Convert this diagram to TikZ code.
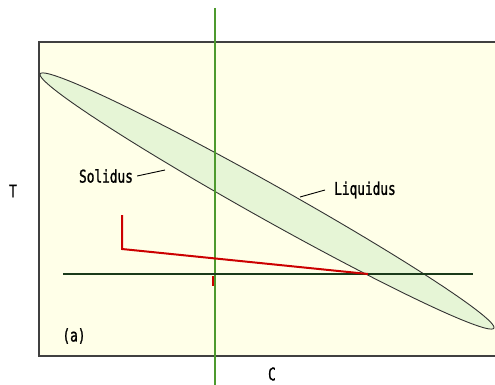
\documentclass[tikz,border=0pt]{standalone}
\usepackage{fontspec}
\usepackage{xcolor}
\usepackage{tikz}
\newfontfamily\labelfont{DejaVu Sans Mono}[FakeStretch=0.73, FakeBold=1.2]
\definecolor{paperColor}{HTML}{FFFFE8}
\definecolor{lensColor}{HTML}{E6F5D6}
\definecolor{axisGreen}{HTML}{4E9A2E}
\definecolor{tieGreen}{HTML}{1A3A1A}
\definecolor{pathRed}{HTML}{CC0000}
\tikzset{lbl/.style={font=\labelfont\fontsize{17.5}{20}\selectfont, inner xsep=4pt, inner ysep=0pt}}

\begin{document}
\begin{tikzpicture}[x=1pt,y=-1pt]
    \useasboundingbox (0,0) rectangle (495,385);
    % panel
    \fill[paperColor] (39,42) rectangle (495,356);
    \draw[line width=1.4pt, black!75] (495,42) -- (39,42) -- (39,356) -- (495,356);
    % two-phase lens between solidus and liquidus
    \draw[fill=lensColor, draw=black!80, line width=0.9pt, domain=0:359, samples=200]
        plot ({267+227*cos(\x)}, {201+126.5*cos(\x)+20*sin(\x)}) -- cycle;
    %  C = C0
    \draw[axisGreen, line width=1.4pt] (215,8) -- (215,385);
    % tie line
    \draw[tieGreen, line width=1.1pt] (63,274) -- (473,274);
    % cooling path
    \draw[pathRed, line width=2pt] (122,215) -- (122,249) -- (368,274);
    \draw[pathRed, line width=2pt] (213,276) -- (213,286);

    \node[lbl] (tAxis) at (13,191) {T};
    \node[lbl] (cAxis) at (272,374) {C};
    \node[lbl] (panel) at (74,336) {(a)};
    \node[lbl] (solidus) at (106,176) {Solidus};
    \node[lbl] (liquidus) at (365,190) {Liquidus};
    \coordinate (solidusEnd) at (165,170);
    \coordinate (liquidusEnd) at (300,197);
    \draw[line width=0.9pt] (solidus.east) -- (solidusEnd);
    \draw[line width=0.9pt] ([xshift=-5pt]liquidus.west) -- (liquidusEnd);
\end{tikzpicture}
\end{document}
